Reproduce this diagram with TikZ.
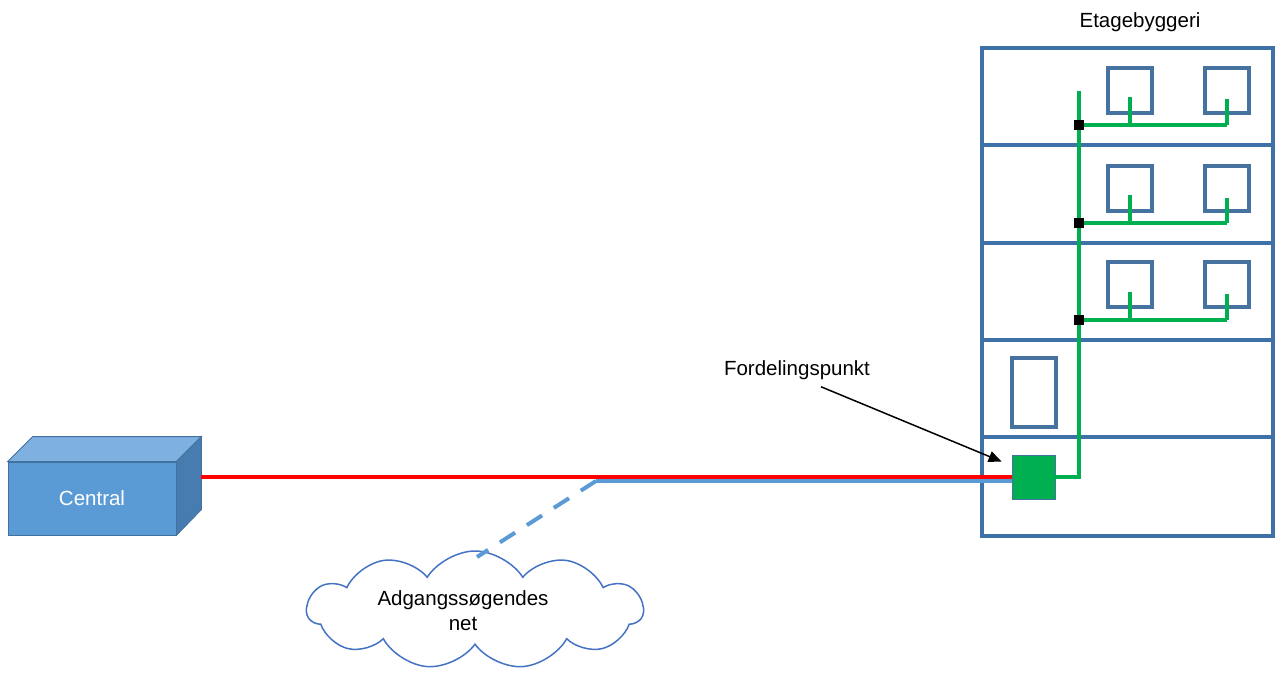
\documentclass[tikz,border=0pt]{standalone}
\usepackage{fontspec}
\setmainfont{Liberation Sans}
\usetikzlibrary{shapes.symbols,arrows.meta}
\definecolor{bldgblue}{RGB}{62,113,168}
\definecolor{aptblue}{RGB}{70,114,160}
\definecolor{gr}{RGB}{0,176,80}
\definecolor{linkblue}{RGB}{91,155,213}
\definecolor{frontblue}{RGB}{91,155,213}
\definecolor{topblue}{RGB}{126,176,224}
\definecolor{sideblue}{RGB}{70,124,176}
\definecolor{edgeblue}{RGB}{65,113,156}
\definecolor{cloudblue}{RGB}{68,114,196}
\begin{document}
\begin{tikzpicture}[x=1pt,y=-1pt,
  lbl/.style={font=\fontsize{20.5}{24}\selectfont, inner sep=0pt},
  bline/.style={draw=bldgblue, line width=3.5pt},
  apt/.style={draw=aptblue, line width=3.5pt, minimum width=44pt, minimum height=45pt, inner sep=0pt},
  junc/.style={fill=black, minimum size=10pt, inner sep=0pt},
  gline/.style={draw=gr, line width=3.5pt},
  face/.style={draw=edgeblue, line width=0.8pt}]
\useasboundingbox (0,0) rectangle (1275,674);

% building
\node[bline, minimum width=291pt, minimum height=488pt, inner sep=0pt] (bldg) at (1127.5,292) {};
\foreach \yy [count=\i] in {145,243,340,437} {
  \coordinate (f\i) at (0,\yy);
  \draw[bline] (bldg.west |- f\i) -- (bldg.east |- f\i);
}
\node[lbl] (etage) at (1140,22) {Etagebyggeri};

% apartments
\node[apt] (a11) at (1130,90.5) {};
\node[apt] (a12) at (1227,90.5) {};
\node[apt] (a21) at (1130,188.5) {};
\node[apt] (a22) at (1227,188.5) {};
\node[apt] (a31) at (1130,284.5) {};
\node[apt] (a32) at (1227,284.5) {};
\node[draw=aptblue, line width=3.5pt, minimum width=44pt, minimum height=69pt, inner sep=0pt] (a4) at (1034,392.5) {};

% distribution point
\node[fill=gr, draw=aptblue, line width=0.8pt, minimum width=43pt, minimum height=44pt, inner sep=0pt] (fp) at (1033.5,477) {};

% riser
\coordinate (rtop) at (1079,91);
\coordinate (rbend) at (1079,477);
\draw[gline] (rtop) -- (rbend) -- (fp.east);
\foreach \yy/\n in {125/1,223/2,320/3} {
  \coordinate (j\n) at (1079,\yy);
  \draw[gline] (j\n) -- (a\n2.center |- j\n);
  \draw[gline] ([yshift=-7pt]a\n1.center) -- (a\n1.center |- j\n);
  \draw[gline] ([yshift=-9pt]a\n2.center) -- (a\n2.center |- j\n);
  \node[junc] (jn\n) at (j\n) {};
}

% central box
\node[fill=frontblue, face, minimum width=168pt, minimum height=73pt, inner sep=0pt] (central) at (92,498.5) {};
\fill[topblue] (central.north west) -- (central.north east) -- ++(25,-25) -- ([xshift=25pt,yshift=25pt]central.north west) -- cycle;
\draw[face] (central.north west) -- (central.north east) -- ++(25,-25) -- ([xshift=25pt,yshift=25pt]central.north west) -- cycle;
\filldraw[fill=sideblue, face] (central.north east) -- ++(25,-25) -- ++(0,73) -- (central.south east) -- cycle;
\node[lbl, text=white] at (central) {Central};

% links
\coordinate (cx) at (201,477);
\coordinate (split) at (596,481);
\draw[red, line width=4pt] (cx) -- (fp.west);
\draw[linkblue, line width=4pt] (split) -- (fp.west |- split);

% cloud
\node[cloud, draw=cloudblue, line width=1.5pt, cloud puffs=11, cloud puff arc=115, aspect=2.8,
      minimum width=336pt, minimum height=118pt, inner sep=0pt] (net) at (475,610) {};
\node[align=center, inner sep=0pt, font=\fontsize{20.5}{25}\selectfont] (nettext) at (463,611) {Adgangssøgendes\\net};
\coordinate (cloudpt) at (477,557);
\draw[linkblue, line width=4pt, dash pattern=on 18pt off 14pt] (split) -- (cloudpt);

% label + arrow
\node[lbl] (fplabel) at (797,370) {Fordelingspunkt};
\draw[line width=1.5pt, -{Triangle[length=13pt,width=11pt]}] ([xshift=24pt,yshift=-7pt]fplabel.south) -- ([xshift=-10pt,yshift=-7pt]fp.north west);
\end{tikzpicture}
\end{document}
